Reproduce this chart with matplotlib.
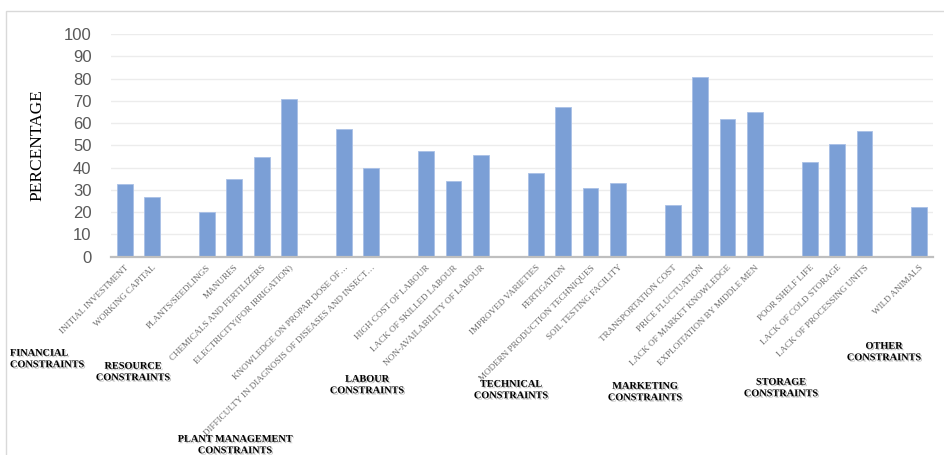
import matplotlib
matplotlib.use("Agg")
import matplotlib.pyplot as plt
import matplotlib.patheffects as pe
from matplotlib.patches import Rectangle

categories = [
    "INITIAL INVESTMENT", "WORKING CAPITAL", "",
    "PLANTS/SEEDLINGS", "MANURES", "CHEMICALS AND FERTILIZERS", "ELECTRICITY(FOR IRRIGATION)", "",
    "KNOWLEDGE ON PROPAR DOSE OF…", "DIFFICULTY IN DIAGNOSIS OF DISEASES AND INSECT…", "",
    "HIGH COST OF LABOUR", "LACK OF SKILLED LABOUR", "NON-AVAILABILITY OF LABOUR", "",
    "IMPROVED VARIETIES", "FERTIGATION", "MODERN PRODUCTION TECHNIQUES", "SOIL TESTING FACILITY", "",
    "TRANSPORTATION COST", "PRICE FLUCTUATION", "LACK OF MARKET KNOWLEDGE", "EXPLOITATION BY MIDDLE MEN", "",
    "POOR SHELF LIFE", "LACK OF COLD STORAGE", "LACK OF PROCESSING UNITS", "",
    "WILD ANIMALS",
]
values = [
    32.5, 26.6, None,
    20.0, 34.9, 44.8, 70.7, None,
    57.3, 40.0, None,
    47.5, 34.0, 45.7, None,
    37.4, 67.4, 30.7, 33.1, None,
    23.2, 80.8, 61.7, 65.0, None,
    42.4, 50.8, 56.5, None,
    22.3,
]
group_labels = [
    "FINANCIAL\nCONSTRAINTS", "RESOURCE\nCONSTRAINTS", "PLANT MANAGEMENT\nCONSTRAINTS",
    "LABOUR\nCONSTRAINTS", "TECHNICAL\nCONSTRAINTS", "MARKETING\nCONSTRAINTS",
    "STORAGE\nCONSTRAINTS", "OTHER\nCONSTRAINTS",
]
yticks = [0, 10, 20, 30, 40, 50, 60, 70, 80, 90, 100]

W, H = 944, 455
fig = plt.figure(figsize=(W / 100, H / 100), dpi=100)
ax = fig.add_axes([111 / W, 1 - 256.7 / H, (933 - 111) / W, (256.7 - 34) / H])

# chart border
fig.patches.append(Rectangle((6 / W, -0.1), 1.2, (H - 10.5) / H + 0.1, transform=fig.transFigure,
                             fill=False, edgecolor="#d9d9d9", linewidth=1.0))

x = list(range(len(categories)))
bx = [i for i, v in zip(x, values) if v is not None]
bv = [v for v in values if v is not None]
ax.bar(bx, bv, width=0.57, color="#7b9fd6", edgecolor="#a9c0e6", linewidth=0.6, zorder=3)

ax.set_xlim(-0.5, len(categories) - 0.5)
ax.set_ylim(0, 100)
ax.set_yticks(yticks)
ax.yaxis.grid(True, color="#ececec", linewidth=1.0, zorder=0)
for s in ["top", "right", "left"]:
    ax.spines[s].set_visible(False)
ax.spines["bottom"].set_color("#bfbfbf")
ax.spines["bottom"].set_linewidth(1.6)
ax.spines["bottom"].set_zorder(4)
ax.tick_params(axis="y", length=0, pad=14, labelsize=12, labelcolor="#595959")
for t in ax.get_yticklabels():
    t.set_fontfamily("Liberation Sans")

ax.set_xticks(x)
ax.set_xticklabels(categories, rotation=45, ha="right", rotation_mode="anchor",
                   fontsize=6.6, color="#6a6a6a", fontfamily="Liberation Serif")
ax.tick_params(axis="x", length=0, pad=5)

ax.set_ylabel("PERCENTAGE", fontfamily="Liberation Serif", fontsize=12.5, color="black", labelpad=8)
ax.yaxis.set_label_coords(45 / (933 - 111) - 111 / (933 - 111), 0.5)

# group labels (pixel positions of their centres)
gpos = [(10, 359, "left"), (133, 372, "center"), (235, 445, "center"), (367, 385, "center"),
        (511, 390, "center"), (645, 392, "center"), (781, 388, "center"), (884, 352, "center")]
shadow = [pe.withSimplePatchShadow(offset=(1, -1), shadow_rgbFace="#999999", alpha=0.6)]
for lab, (px, py, ha) in zip(group_labels, gpos):
    fig.text(px / W, 1 - py / H, lab, ha=ha, va="center", multialignment=ha,
             fontfamily="Liberation Serif", fontweight="bold", fontsize=7.4,
             color="black", linespacing=1.35, path_effects=shadow)

fig.savefig("out.png", dpi=100)
